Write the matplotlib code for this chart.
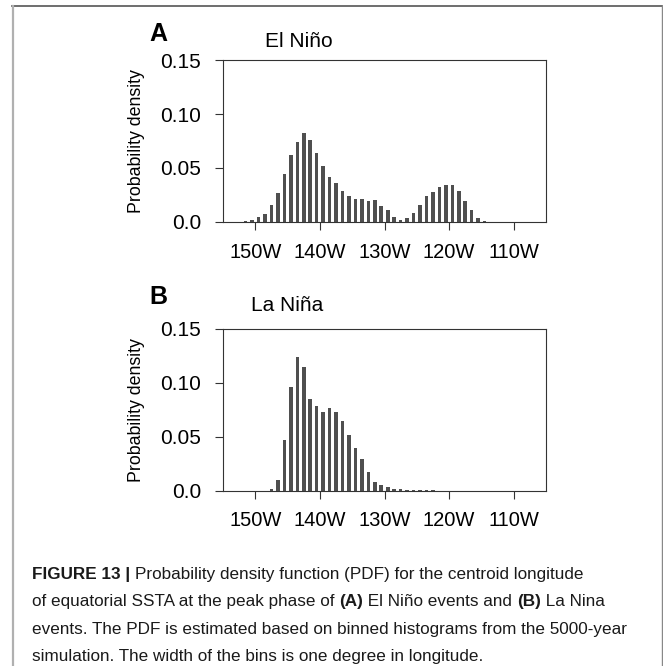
import numpy as np
import matplotlib.pyplot as plt
from matplotlib.lines import Line2D

# PDF of centroid longitude, 1-degree bins (bin centres in degrees east, negative = west)
elnino_start = -151.5
elnino_pdf = [0.001, 0.002, 0.005, 0.007, 0.016, 0.027, 0.044, 0.062, 0.074, 0.082,
              0.076, 0.064, 0.052, 0.042, 0.036, 0.029, 0.024, 0.021, 0.021, 0.019,
              0.020, 0.015, 0.011, 0.005, 0.002, 0.0034, 0.0083, 0.016, 0.024, 0.0275,
              0.032, 0.034, 0.034, 0.029, 0.019, 0.011, 0.0034, 0.0005]

lanina_start = -147.5
lanina_pdf = [0.002, 0.010, 0.047, 0.096, 0.124, 0.115, 0.085, 0.078, 0.073, 0.077,
              0.0725, 0.0645, 0.052, 0.040, 0.029, 0.0176, 0.0077, 0.0052, 0.003, 0.002,
              0.0015, 0.001, 0.001, 0.0008, 0.0006, 0.0005]

xticks = [-150, -140, -130, -120, -110]
xticklabels = ['150W', '140W', '130W', '120W', '110W']
yticks = [0.0, 0.05, 0.10, 0.15]
yticklabels = ['0.0', '0.05', '0.10', '0.15']

plt.rcParams['font.family'] = ['Liberation Sans', 'DejaVu Sans']

W, H = 663, 666
fig = plt.figure(figsize=(W / 100, H / 100), dpi=100)


def fx(px):
    return px / W


def fy(py):
    return 1 - py / H


def panel(top, bottom, start, pdf):
    ax = fig.add_axes([fx(223), fy(bottom), fx(546) - fx(223), fy(top) - fy(bottom)])
    centers = start + np.arange(len(pdf))
    ax.bar(centers, pdf, width=0.55, color='#4f4f4f', linewidth=0)
    ax.set_xlim(-155, -105)
    ax.set_ylim(0, 0.15)
    ax.set_xticks(xticks)
    ax.set_xticklabels(xticklabels)
    ax.set_yticks(yticks)
    ax.set_yticklabels(yticklabels)
    for s in ax.spines.values():
        s.set_color('#333333')
        s.set_linewidth(0.8)
    ax.tick_params(direction='out', length=5.8, width=0.8, color='#333333')
    ax.tick_params(axis='x', labelsize=14.5, pad=9)
    ax.tick_params(axis='y', labelsize=15, pad=10)
    ax.set_ylabel('Probability density', fontsize=12.8)
    ax.yaxis.set_label_coords((145 - 223) / (546 - 223), 0.5)
    return ax


panel(60, 222, elnino_start, elnino_pdf)
panel(328.7, 490.7, lanina_start, lanina_pdf)

fig.text(fx(158), fy(34), 'A', fontsize=18, fontweight='bold', ha='center', va='center')
fig.text(fx(265), fy(47), 'El Niño', fontsize=15, ha='left', va='baseline')
fig.text(fx(158), fy(297), 'B', fontsize=18, fontweight='bold', ha='center', va='center')
fig.text(fx(251), fy(311), 'La Niña', fontsize=15, ha='left', va='baseline')

# outer frame
fig.add_artist(Line2D([fx(12), fx(661.5)], [fy(6), fy(6)], color='#555555', lw=1.2))
fig.add_artist(Line2D([fx(12.5), fx(12.5)], [fy(6), 0], color='#b0b0b0', lw=1.6))
fig.add_artist(Line2D([fx(661.5), fx(661.5)], [fy(6), 0], color='#888888', lw=1.0))

# caption, mixed bold / regular runs
caption = [
    [('FIGURE 13 | ', True), ('Probability density function (PDF) for the centroid longitude', False)],
    [('of equatorial SSTA at the peak phase of ', False), ('(A)', True),
     (' El Niño events and ', False), ('(B)', True), (' La Nina', False)],
    [('events. The PDF is estimated based on binned histograms from the 5000-year', False)],
    [('simulation. The width of the bins is one degree in longitude.', False)],
]
renderer = fig.canvas.get_renderer()

# size the caption so the full-width line spans 32..630 px
probe = fig.text(0, 0, caption[2][0][0], fontsize=14)
cap_size = 14 * 598 / probe.get_window_extent(renderer).width
probe.remove()

for i, line in enumerate(caption):
    x = 32
    y = 579 + i * 27.3
    for txt, bold in line:
        t = fig.text(fx(x), fy(y), txt, fontsize=cap_size,
                     fontweight='bold' if bold else 'normal', ha='left', va='baseline',
                     color='#1a1a1a')
        x += t.get_window_extent(renderer).width

fig.savefig('out.png', dpi=100)
